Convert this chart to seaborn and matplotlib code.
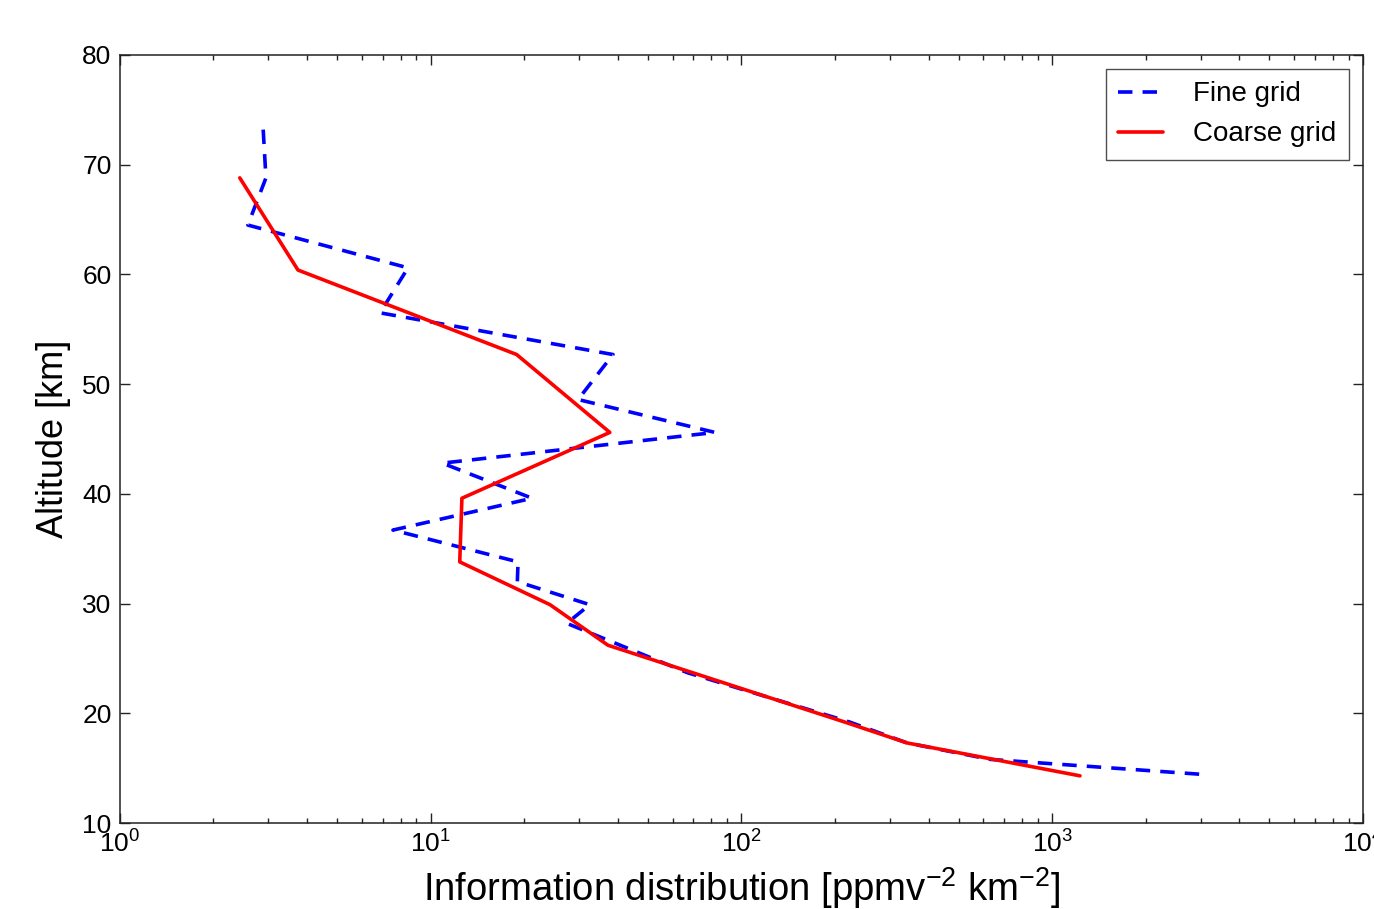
import numpy as np
import pandas as pd
import seaborn as sns
import matplotlib.pyplot as plt

# values
fine_alt = [73.2, 68.8, 64.5, 60.6, 56.5, 52.7, 48.6, 45.6, 42.8, 39.6, 36.7,
            33.8, 32.0, 29.9, 28.2, 23.7, 19.2, 17.3, 15.8, 14.4]
fine_info = [2.89, 2.95, 2.58, 8.45, 6.87, 38.6, 29.8, 82.2, 10.9, 21.2, 7.56,
             19.1, 19.0, 32.5, 27.4, 67.0, 223, 341, 631, 3150]
coarse_alt = [68.8, 60.4, 52.7, 45.6, 39.6, 33.8, 29.9, 26.2, 19.2, 17.3, 14.3]
coarse_info = [2.43, 3.74, 18.9, 37.7, 12.6, 12.4, 24.2, 37.2, 215, 341, 1228]

x_ticks = [1, 10, 100, 1000, 10000]
y_ticks = [10, 20, 30, 40, 50, 60, 70, 80]

fine = pd.DataFrame({'info': fine_info, 'alt': fine_alt})
coarse = pd.DataFrame({'info': coarse_info, 'alt': coarse_alt})

sns.set_style('ticks')
plt.rcParams['font.family'] = ['Liberation Sans', 'DejaVu Sans']
plt.rcParams['mathtext.fontset'] = 'custom'
plt.rcParams['mathtext.rm'] = 'Liberation Sans'
plt.rcParams['mathtext.it'] = 'Liberation Sans:italic'
plt.rcParams['mathtext.bf'] = 'Liberation Sans:bold'
plt.rcParams['text.color'] = 'black'
plt.rcParams['axes.labelcolor'] = 'black'
plt.rcParams['xtick.color'] = 'black'
plt.rcParams['ytick.color'] = 'black'

fig, ax = plt.subplots(figsize=(13.74, 9.09), dpi=100)
fig.subplots_adjust(left=0.0873, right=0.992, bottom=0.0946, top=0.9395)

sns.lineplot(data=fine, x='info', y='alt', sort=False, estimator=None, ax=ax,
             color='blue', lw=2.6, linestyle=(0, (4.0, 2.8)), label='Fine grid')
sns.lineplot(data=coarse, x='info', y='alt', sort=False, estimator=None, ax=ax,
             color='red', lw=2.6, label='Coarse grid')

ax.set_xscale('log')
ax.set_xlim(1, 10000)
ax.set_ylim(10, 80)
ax.set_xticks(x_ticks)
ax.set_yticks(y_ticks)
ax.tick_params(which='both', direction='in', top=True, right=True, labelsize=19,
               color='#222222', width=1)
ax.tick_params(which='major', length=7, pad=6)
ax.tick_params(which='minor', length=3.5)
ax.tick_params(axis='x', which='major', pad=5)
for s in ax.spines.values():
    s.set_color('#222222')
    s.set_linewidth(1.1)

ax.set_xlabel(r'Information distribution [ppmv$^{-2}$ km$^{-2}$]', fontsize=27.5, labelpad=6)
ax.set_ylabel('Altitude [km]', fontsize=26, labelpad=8)

leg = ax.legend(loc='upper right', fontsize=20, frameon=True, fancybox=False,
                edgecolor='#222222', handlelength=1.6, borderpad=0.45,
                labelspacing=0.5, handletextpad=1.1, borderaxespad=0.5)
leg.get_frame().set_linewidth(1.0)

fig.savefig('out.png', dpi=100)
